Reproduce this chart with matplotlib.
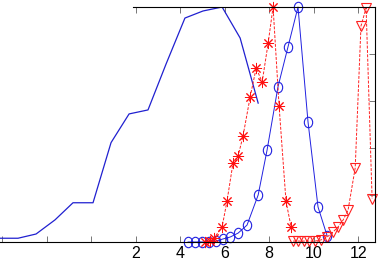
import matplotlib
matplotlib.use("Agg")
import matplotlib.pyplot as plt
from matplotlib.path import Path
from matplotlib.transforms import Affine2D

plt.rcParams['font.family'] = ['Liberation Sans Narrow', 'Liberation Sans', 'DejaVu Sans']

# ---------- données ----------
x_curve = [-4.09, -3.28, -2.47, -1.62, -0.81, 0.09, 0.90, 1.71, 2.56, 3.37,
           4.22, 5.03, 5.89, 6.70, 7.51]
y_curve = [0.016, 0.016, 0.034, 0.094, 0.167, 0.167, 0.423, 0.545, 0.562, 0.757,
           0.953, 0.983, 1.0, 0.868, 0.591]

x_circ = [4.36, 4.67, 4.99, 5.30, 5.62, 5.93, 6.25, 6.61, 7.01, 7.51, 7.91,
          8.40, 8.85, 9.30, 9.75, 10.20, 10.61]
y_circ = [0.0, 0.0, 0.0, 0.0, 0.004, 0.013, 0.021, 0.038, 0.072, 0.200, 0.391,
          0.660, 0.830, 1.0, 0.511, 0.149, 0.026]

x_star = [5.12, 5.35, 5.53, 5.89, 6.11, 6.38, 6.61, 6.83, 7.15, 7.42, 7.69,
          7.96, 8.18, 8.45, 8.76, 8.99]
y_star = [0.0, 0.004, 0.017, 0.064, 0.174, 0.336, 0.366, 0.451, 0.617, 0.740,
          0.681, 0.847, 1.0, 0.579, 0.174, 0.064]

x_tri = [9.08, 9.30, 9.57, 9.80, 10.07, 10.34, 10.61, 10.88, 11.10, 11.33,
         11.55, 11.87, 12.13, 12.36, 12.63]
y_tri = [0.004, 0.004, 0.004, 0.004, 0.004, 0.009, 0.021, 0.043, 0.064, 0.094,
         0.136, 0.315, 0.919, 0.996, 0.183]

x_ticks = [-4, -2, 0, 2, 4, 6, 8, 10, 12]
x_ticklabels = ['', '', '', '2', '4', '6', '8', '10', '12']
top_ticks = [2, 4, 6, 8, 10, 12]
y_ticks = [0, 0.2, 0.4, 0.6, 0.8, 1.0]

# cercles un peu étirés en hauteur, comme sur l'original
ellipse = Path.unit_circle().transformed(Affine2D().scale(0.8, 1.0))

# ---------- figure ----------
fig = plt.figure(figsize=(3.8, 2.6), dpi=100)
ax = fig.add_axes([0.0, 18 / 260, 375 / 380, 235 / 260])

ax.plot(x_curve, y_curve, '-', color='#2020d0', lw=0.9)
ax.plot(x_circ, y_circ, '-', color='#2020e0', lw=0.7, clip_on=False,
        marker=ellipse, ms=7.5, mfc='none', mec='#2020e0', mew=0.8)
ax.plot(x_star, y_star, '--', color='#ff2020', lw=0.7, dashes=(3, 1.5), clip_on=False,
        marker=(8, 2, 0), ms=8, mec='#ff1010', mew=0.7)
ax.plot(x_tri, y_tri, '--', color='#ff2020', lw=0.7, dashes=(3, 1.5), clip_on=False,
        marker='v', ms=7, mfc='none', mec='#ff2020', mew=0.8)

ax.set_xlim(-4.09, 12.76)
ax.set_ylim(0, 1)

ax.spines['left'].set_visible(False)
ax.spines['top'].set_bounds(1.89, 12.76)
for s in ax.spines.values():
    s.set_linewidth(0.8)

ax.set_xticks(x_ticks)
ax.set_xticklabels(x_ticklabels)
ax.tick_params(axis='x', direction='in', length=4, width=0.6, color='#606060',
               labelsize=11.5, pad=3)
ax.set_yticks(y_ticks)
ax.tick_params(axis='y', direction='in', length=4, width=0.6, color='#606060',
               left=False, labelleft=False, right=True, labelright=False)

sec = ax.secondary_xaxis('top')
sec.set_xticks(top_ticks)
sec.tick_params(direction='in', length=4, width=0.6, color='#606060', labeltop=False)
sec.spines['top'].set_visible(False)

fig.savefig("out.png", dpi=100)
